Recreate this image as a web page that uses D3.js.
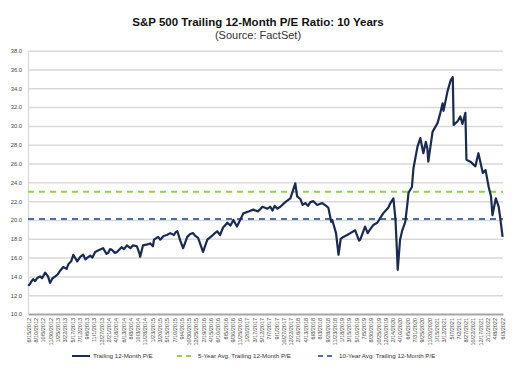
<!DOCTYPE html>
<meta charset="utf-8">
<html>
<head>
<style>
  body { margin: 0; background: #fff; }
  svg { font-family: "Liberation Sans", Arial, sans-serif; }
  .grid line { stroke: #d9d9d9; stroke-width: 1.5; }
  .grid path { display: none; }
</style>
</head>
<body>
<script src="https://cdn.jsdelivr.net/npm/d3@7"></script>
<script>

// readings of the trailing P/E
var peDates = ["2012-06-14","2012-06-28","2012-07-05","2012-07-22","2012-08-06","2012-08-20","2012-09-13","2012-09-28","2012-10-22","2012-11-13","2012-11-28","2012-12-18",
  "2013-01-08","2013-01-25","2013-02-14","2013-03-10","2013-04-05","2013-04-18","2013-05-10","2013-05-26","2013-06-25","2013-07-20","2013-08-10","2013-08-28","2013-09-12","2013-10-03","2013-10-20","2013-11-10","2013-12-10",
  "2014-01-10","2014-02-05","2014-02-18","2014-03-05","2014-03-20","2014-04-10","2014-04-27","2014-06-01","2014-06-20","2014-07-12","2014-08-08","2014-08-28","2014-09-27","2014-10-15","2014-10-22","2014-11-13","2014-12-16",
  "2015-01-07","2015-01-28","2015-02-05","2015-03-09","2015-03-25","2015-04-20","2015-05-15","2015-06-10","2015-07-08","2015-07-22","2015-08-04","2015-08-26","2015-09-17","2015-10-19","2015-11-10","2015-12-02","2015-12-20",
  "2016-01-10","2016-02-17","2016-03-21","2016-04-25","2016-05-18","2016-06-05","2016-06-27","2016-07-20","2016-08-22","2016-09-15","2016-10-07","2016-11-04","2016-11-14","2016-12-23",
  "2017-02-01","2017-03-10","2017-04-14","2017-05-19","2017-06-25","2017-07-18","2017-08-04","2017-08-20","2017-09-10","2017-10-03","2017-11-10","2017-12-19",
  "2018-01-26","2018-02-09","2018-03-07","2018-03-23","2018-04-13","2018-05-03","2018-05-22","2018-06-14","2018-07-13","2018-08-21","2018-09-20","2018-10-07","2018-10-29","2018-11-06","2018-12-05","2018-12-24",
  "2019-01-10","2019-01-30","2019-03-01","2019-03-25","2019-05-01","2019-05-31","2019-06-09","2019-07-16","2019-08-05","2019-08-24","2019-09-20","2019-10-18","2019-12-02",
  "2020-01-10","2020-01-27","2020-02-19","2020-03-06","2020-03-16","2020-03-23","2020-04-10","2020-04-27","2020-05-20","2020-06-06","2020-06-14","2020-07-10","2020-07-22","2020-08-22","2020-09-13","2020-10-06","2020-10-25","2020-11-06","2020-11-13","2020-12-16",
  "2021-01-23","2021-02-10","2021-03-03","2021-03-10","2021-04-10","2021-05-05","2021-05-20","2021-05-27","2021-06-26","2021-07-17","2021-08-02","2021-08-25","2021-09-02","2021-10-03","2021-11-10","2021-12-03",
  "2022-01-06","2022-01-27","2022-02-20","2022-03-10","2022-03-21","2022-04-16","2022-05-08","2022-05-20","2022-06-07"];

var peValues = [13.0,13.2,13.4,13.7,13.5,13.8,14.0,13.8,14.4,14.0,13.3,13.8,
  14.0,14.2,14.6,15.0,14.8,15.3,15.6,16.3,15.6,16.1,16.3,15.8,16.0,16.2,16.0,16.6,16.8,
  17.0,16.4,16.5,16.9,16.8,16.5,16.6,17.1,16.9,17.3,17.0,17.3,17.2,16.5,16.1,17.3,17.4,
  17.5,17.2,17.9,18.2,17.9,18.3,18.4,18.6,18.4,18.7,18.8,17.8,17.0,18.2,18.5,18.6,18.3,
  18.1,16.6,17.9,18.3,18.6,18.8,18.4,19.2,19.7,19.4,20.0,19.3,19.6,20.7,
  20.9,21.1,20.9,21.4,21.2,21.4,21.0,21.5,21.2,21.4,21.9,22.3,
  23.9,22.5,22.2,21.6,21.8,21.5,21.9,22.0,21.6,21.8,21.5,21.3,19.8,20.0,18.6,16.3,
  18.0,18.2,18.4,18.6,18.9,17.8,17.9,19.3,18.6,19.0,19.5,19.7,20.7,
  21.3,21.8,22.3,20.0,17.0,14.7,17.9,18.9,19.8,21.8,22.9,23.5,25.5,27.8,28.7,27.1,28.3,27.6,26.2,29.4,
  30.3,31.2,32.4,31.6,33.7,34.9,35.2,30.1,30.5,31.0,30.2,31.4,26.4,26.2,25.7,27.1,
  25.0,25.3,23.5,22.5,20.5,22.3,21.4,20.2,18.2];

var fiveYearAvg = 23.0;
var tenYearAvg = 20.1;

var yTicks = [10,12,14,16,18,20,22,24,26,28,30,32,34,36,38];

var tickDates = ["6/15/2012","8/10/2012","10/5/2012","11/30/2012","1/25/2013","3/22/2013","5/17/2013","7/12/2013","9/6/2013","11/1/2013","12/27/2013",
  "2/21/2014","4/18/2014","6/13/2014","8/8/2014","10/3/2014","11/28/2014","1/23/2015","3/20/2015","5/15/2015","7/10/2015","9/4/2015","10/30/2015","12/25/2015",
  "2/19/2016","4/15/2016","6/10/2016","8/5/2016","9/30/2016","11/25/2016","1/20/2017","3/17/2017","5/12/2017","7/7/2017","9/1/2017","10/27/2017","12/22/2017",
  "2/16/2018","4/13/2018","6/8/2018","8/3/2018","9/28/2018","11/23/2018","1/18/2019","3/15/2019","5/10/2019","7/5/2019","8/30/2019","10/25/2019","12/20/2019",
  "2/14/2020","4/10/2020","6/5/2020","7/31/2020","9/25/2020","11/20/2020","1/15/2021","3/12/2021","5/7/2021","7/2/2021","8/27/2021","10/22/2021","12/17/2021",
  "2/11/2022","4/8/2022","6/3/2022"];

var legendNames = ["Trailing 12-Month P/E","5-Year Avg. Trailing 12-Month P/E","10-Year Avg. Trailing 12-Month P/E"];

var W = 516, H = 373;
var plotLeft = 28, plotRight = 503, plotTop = 50.7, plotBottom = 314;

var parseIso = d3.timeParse("%Y-%m-%d");
var parseUs = d3.timeParse("%m/%d/%Y");
var fmtUs = function(d) { return (d.getMonth()+1) + "/" + d.getDate() + "/" + d.getFullYear(); };

var data = peDates.map(function(d, i) { return {date: parseIso(d), pe: peValues[i]}; });

var svg = d3.select("body").append("svg")
  .attr("width", W)
  .attr("height", H);

var x = d3.scaleTime()
  .domain([parseIso("2012-06-12"), parseIso("2022-06-10")])
  .range([plotLeft, plotRight]);

var y = d3.scaleLinear()
  .domain([10, 38])
  .range([plotBottom, plotTop]);

// title
svg.append("text")
  .attr("x", 258).attr("y", 26)
  .attr("text-anchor", "middle")
  .style("font-size", "11.5px").style("font-weight", "bold").style("fill", "#111")
  .text("S&P 500 Trailing 12-Month P/E Ratio: 10 Years");
svg.append("text")
  .attr("x", 258).attr("y", 39)
  .attr("text-anchor", "middle")
  .style("font-size", "11px").style("fill", "#333")
  .text("(Source: FactSet)");

// horizontal gridlines
svg.append("g")
  .attr("class", "grid")
  .attr("transform", "translate(" + plotLeft + ",0)")
  .call(d3.axisRight(y).tickValues(yTicks.slice(1)).tickSize(plotRight - plotLeft).tickFormat(""));

// y labels
var yAxis = svg.append("g")
  .attr("transform", "translate(" + plotLeft + ",0)")
  .call(d3.axisLeft(y).tickValues(yTicks).tickSize(0).tickPadding(6).tickFormat(d3.format(".1f")));
yAxis.select(".domain").attr("stroke", "#d9d9d9").attr("stroke-width", 1.2);
yAxis.selectAll("text").style("font-size", "5.8px").style("fill", "#444").style("font-family", "Liberation Sans, Arial, sans-serif");

// x axis with rotated date labels
var xAxis = svg.append("g")
  .attr("transform", "translate(0," + plotBottom + ")")
  .call(d3.axisBottom(x).tickValues(tickDates.map(parseUs)).tickSize(0).tickFormat(fmtUs));
xAxis.select(".domain").attr("stroke", "#a6a6a6").attr("stroke-width", 2.2);
xAxis.selectAll("text")
  .attr("transform", "rotate(-90)")
  .attr("x", -4).attr("y", 0).attr("dy", "0.35em")
  .style("text-anchor", "end")
  .style("font-size", "5.5px").style("fill", "#444").style("font-family", "Liberation Sans, Arial, sans-serif");

// average lines
svg.append("line")
  .attr("x1", plotLeft).attr("x2", plotRight)
  .attr("y1", y(fiveYearAvg)).attr("y2", y(fiveYearAvg))
  .attr("stroke", "#92d050").attr("stroke-width", 2).attr("stroke-dasharray", "6,5");
svg.append("line")
  .attr("x1", plotLeft).attr("x2", plotRight)
  .attr("y1", y(tenYearAvg)).attr("y2", y(tenYearAvg))
  .attr("stroke", "#4f6fa0").attr("stroke-width", 2).attr("stroke-dasharray", "6,5");

// P/E line
var line = d3.line()
  .x(function(d) { return x(d.date); })
  .y(function(d) { return y(d.pe); });

svg.append("path")
  .datum(data)
  .attr("fill", "none")
  .attr("stroke", "#1b2a52")
  .attr("stroke-width", 2.2)
  .attr("stroke-linejoin", "round")
  .attr("d", line);

// legend
var legendX = [72, 177, 318];
var legendStyle = [
  {stroke: "#1b2a52", dash: null},
  {stroke: "#92d050", dash: "5,4"},
  {stroke: "#4f6fa0", dash: "5,4"}
];
var legend = svg.selectAll(".legend")
  .data(legendNames)
  .enter().append("g")
  .attr("class", "legend")
  .attr("transform", function(d, i) { return "translate(" + legendX[i] + ",356)"; });
legend.append("line")
  .attr("x1", 0).attr("x2", 18).attr("y1", 0).attr("y2", 0)
  .attr("stroke", function(d, i) { return legendStyle[i].stroke; })
  .attr("stroke-width", 2)
  .attr("stroke-dasharray", function(d, i) { return legendStyle[i].dash; });
legend.append("text")
  .attr("x", 21).attr("y", 0).attr("dy", "0.35em")
  .style("font-size", "6.2px").style("fill", "#333")
  .text(function(d) { return d; });

</script>
</body>
</html>
